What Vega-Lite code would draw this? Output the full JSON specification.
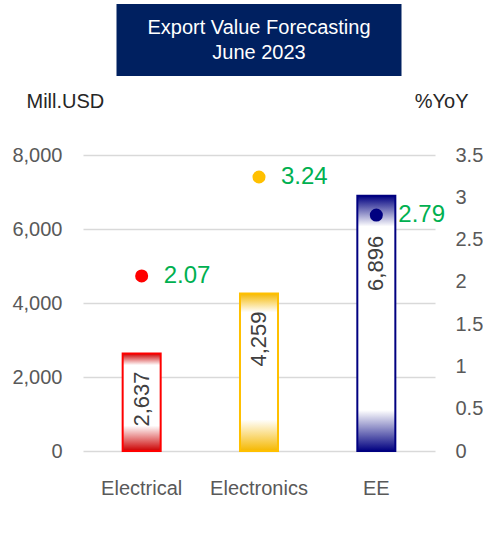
{
  "$schema": "https://vega.github.io/schema/vega-lite/v6.json",
  "background": "white",
  "padding": {"left": 11, "top": 4, "right": 0, "bottom": 0},
  "bounds": "flush",
  "center": true,
  "spacing": 79,
  "config": {
    "font": "Liberation Sans",
    "view": {"stroke": null},
    "axis": {
      "labelFont": "Liberation Sans",
      "titleFont": "Liberation Sans",
      "labelFontSize": 20,
      "titleFontSize": 20,
      "labelColor": "#595959",
      "titleColor": "#262626",
      "titleFontWeight": "normal",
      "ticks": false,
      "domain": false
    }
  },
  "vconcat": [
    {
      "width": 285,
      "height": 72,
      "view": {"fill": "#002060", "stroke": null},
      "data": {"values": [{"line": "Export Value Forecasting"}, {"line": "June 2023"}]},
      "mark": {"type": "text", "color": "#ffffff", "fontSize": 20, "baseline": "middle", "align": "center"},
      "encoding": {
        "text": {"field": "line"},
        "y": {"field": "line", "type": "nominal", "sort": null, "axis": null, "scale": {"type": "point", "padding": 0.94}}
      }
    },
    {
      "width": 352,
      "height": 296,
      "data": {
        "values": [
          {"cat": "Electrical", "value": 2637, "yoy": 2.07},
          {"cat": "Electronics", "value": 4259, "yoy": 3.24},
          {"cat": "EE", "value": 6896, "yoy": 2.79}
        ]
      },
      "encoding": {
        "x": {
          "field": "cat",
          "type": "nominal",
          "sort": null,
          "scale": {"domain": ["Electrical", "Electronics", "EE"], "paddingInner": 0.676, "paddingOuter": 0.338},
          "axis": {"title": null, "labelAngle": 0, "labelPadding": 27, "grid": false, "labelColor": "#595959"}
        }
      },
      "layer": [
        {
          "encoding": {
            "y": {
              "field": "value",
              "type": "quantitative",
              "scale": {"domain": [0, 8000], "nice": false},
              "axis": {
                "orient": "left",
                "title": "Mill.USD",
                "values": [0, 2000, 4000, 6000, 8000],
                "format": ",.0f",
                "grid": true,
                "gridColor": "#d9d9d9",
                "gridWidth": 1.5,
                "labelPadding": 21,
                "titleAngle": 0,
                "titleAlign": "left",
                "titleBaseline": "middle",
                "titleX": -57,
                "titleY": -54
              }
            }
          },
          "layer": [
            {
              "transform": [{"filter": "datum.cat === 'Electrical'"}],
              "mark": {
                "type": "bar",
                "stroke": "#ff0000",
                "strokeWidth": 2,
                "fill": {"gradient": "linear", "x1": 0, "y1": 0, "x2": 0, "y2": 1,
                  "stops": [{"offset": 0, "color": "#cc0000"}, {"offset": 0.12, "color": "#ffffff"}, {"offset": 0.74, "color": "#ffffff"}, {"offset": 1, "color": "#cc0000"}]}
              }
            },
            {
              "transform": [{"filter": "datum.cat === 'Electronics'"}],
              "mark": {
                "type": "bar",
                "stroke": "#ffc000",
                "strokeWidth": 2,
                "fill": {"gradient": "linear", "x1": 0, "y1": 0, "x2": 0, "y2": 1,
                  "stops": [{"offset": 0, "color": "#f5b800"}, {"offset": 0.12, "color": "#ffffff"}, {"offset": 0.8, "color": "#ffffff"}, {"offset": 1, "color": "#f5b800"}]}
              }
            },
            {
              "transform": [{"filter": "datum.cat === 'EE'"}],
              "mark": {
                "type": "bar",
                "stroke": "#000080",
                "strokeWidth": 2,
                "fill": {"gradient": "linear", "x1": 0, "y1": 0, "x2": 0, "y2": 1,
                  "stops": [{"offset": 0, "color": "#000080"}, {"offset": 0.12, "color": "#ffffff"}, {"offset": 0.84, "color": "#ffffff"}, {"offset": 1, "color": "#000080"}]}
              }
            },
            {
              "transform": [{"filter": "datum.cat !== 'EE'"}],
              "mark": {"type": "text", "angle": 270, "align": "right", "baseline": "middle", "dx": -18, "fontSize": 22, "color": "#404040"},
              "encoding": {"text": {"field": "value", "format": ","}}
            },
            {
              "transform": [{"filter": "datum.cat === 'EE'"}],
              "mark": {"type": "text", "angle": 270, "align": "right", "baseline": "middle", "dx": -40, "fontSize": 22, "color": "#404040"},
              "encoding": {"text": {"field": "value", "format": ","}}
            }
          ]
        },
        {
          "encoding": {
            "y": {
              "field": "yoy",
              "type": "quantitative",
              "scale": {"domain": [0, 3.5], "nice": false},
              "axis": {
                "orient": "right",
                "title": "%YoY",
                "values": [0, 0.5, 1, 1.5, 2, 2.5, 3, 3.5],
                "format": ".1~f",
                "grid": false,
                "labelPadding": 20,
                "titleAngle": 0,
                "titleAlign": "right",
                "titleBaseline": "middle",
                "titleX": 33,
                "titleY": -54
              }
            }
          },
          "layer": [
            {
              "mark": {"type": "point", "filled": true, "size": 170, "opacity": 1},
              "encoding": {
                "color": {"field": "cat", "type": "nominal", "scale": {"domain": ["Electrical", "Electronics", "EE"], "range": ["#ff0000", "#ffc000", "#000080"]}, "legend": null}
              }
            },
            {
              "mark": {"type": "text", "align": "left", "baseline": "middle", "dx": 22, "fontSize": 24, "color": "#00b050"},
              "encoding": {"text": {"field": "yoy", "format": ".2f"}}
            }
          ]
        }
      ],
      "resolve": {"scale": {"y": "independent"}}
    }
  ]
}
